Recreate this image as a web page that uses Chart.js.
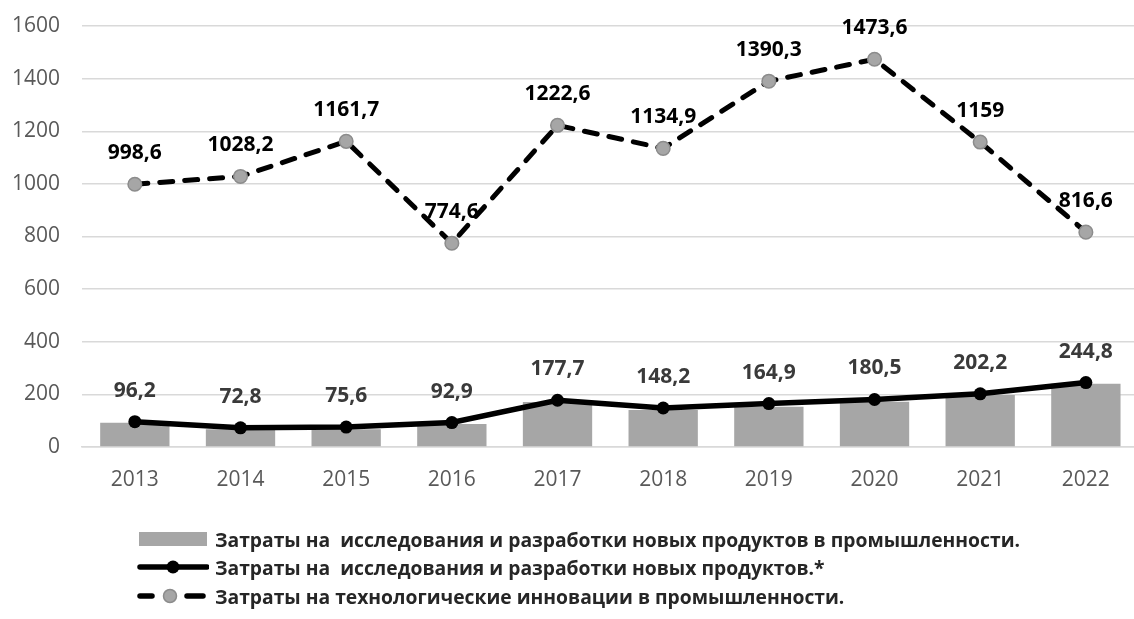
<!DOCTYPE html>
<html>
<head>
<meta charset="utf-8">
<script src="https://cdn.jsdelivr.net/npm/chart.js@4"></script>
<style>
  html, body { margin: 0; padding: 0; background: #fff; overflow: hidden; }
  #wrap { position: relative; width: 1134px; height: 619px; overflow: hidden; }
  #c { position: absolute; left: 0; top: 0; }
  #legend { position: absolute; left: 137px; top: 0; font-family: "Open Sans", sans-serif; font-weight: 700; font-size: 19.3px; color: #262626; }
  .row { position: absolute; left: 0; height: 28px; display: flex; align-items: center; white-space: pre; }
  .row svg { display: block; margin-right: 6px; }
</style>
</head>
<body>
<div id="wrap">
  <canvas id="c" width="1147" height="619"></canvas>
  <div id="legend"></div>
</div>
<script>
const categories = ['2013', '2014', '2015', '2016', '2017', '2018', '2019', '2020', '2021', '2022'];
const industryRnD = [92, 67, 67, 87, 171, 141, 153, 172, 198, 240];
const totalRnD = [96.2, 72.8, 75.6, 92.9, 177.7, 148.2, 164.9, 180.5, 202.2, 244.8];
const techInnovation = [998.6, 1028.2, 1161.7, 774.6, 1222.6, 1134.9, 1390.3, 1473.6, 1159, 816.6];
const yTickValues = [0, 200, 400, 600, 800, 1000, 1200, 1400, 1600];
const seriesNames = [
  'Затраты на  исследования и разработки новых продуктов в промышленности.',
  'Затраты на  исследования и разработки новых продуктов.*',
  'Затраты на технологические инновации в промышленности.'
];

const fmt = v => String(v).replace('.', ',');

const labelPlugin = {
  id: 'valueLabels',
  afterDatasetsDraw(chart) {
    const ctx = chart.ctx;
    chart.data.datasets.forEach((ds, i) => {
      if (!ds.showValues) return;
      const meta = chart.getDatasetMeta(i);
      ctx.save();
      ctx.font = '700 21px "Open Sans", sans-serif';
      ctx.fillStyle = ds.valueColor;
      ctx.textAlign = 'center';
      ctx.textBaseline = 'middle';
      meta.data.forEach((pt, j) => {
        ctx.fillText(fmt(ds.data[j]), pt.x, pt.y - 31);
      });
      ctx.restore();
    });
  }
};

new Chart(document.getElementById('c'), {
  data: {
    labels: categories,
    datasets: [
      {
        type: 'line',
        label: seriesNames[2],
        data: techInnovation,
        borderColor: '#000',
        borderWidth: 5,
        borderDash: [13, 12],
        borderCapStyle: 'round',
        pointRadius: 6.8,
        pointBackgroundColor: '#a6a6a6',
        pointBorderColor: '#8c8c8c',
        pointBorderWidth: 1.5,
        tension: 0,
        order: 1,
        showValues: true,
        valueColor: '#000'
      },
      {
        type: 'line',
        label: seriesNames[1],
        data: totalRnD,
        borderColor: '#000',
        borderWidth: 5.5,
        pointRadius: 6.5,
        pointBackgroundColor: '#000',
        pointBorderColor: '#000',
        pointBorderWidth: 0,
        tension: 0,
        order: 2,
        showValues: true,
        valueColor: '#3a3a3a'
      },
      {
        type: 'bar',
        label: seriesNames[0],
        data: industryRnD,
        backgroundColor: '#a6a6a6',
        borderWidth: 0,
        barPercentage: 0.656,
        categoryPercentage: 1,
        order: 3
      }
    ]
  },
  options: {
    responsive: false,
    animation: false,
    devicePixelRatio: 1,
    layout: { padding: { top: 26, right: 0, bottom: 122, left: 0 } },
    plugins: { legend: { display: false }, tooltip: { enabled: false } },
    scales: {
      x: {
        grid: { display: false, drawTicks: false },
        border: { display: true, color: '#d9d9d9', width: 1.5 },
        ticks: { color: '#595959', font: { family: '"Open Sans", sans-serif', size: 21 }, padding: 20 },
        afterFit(s) { s.height = 50; s.paddingLeft = 0; s.paddingRight = 0; }
      },
      y: {
        min: 0, max: 1600,
        afterBuildTicks(s) { s.ticks = yTickValues.map(v => ({ value: v })); },
        grid: { color: '#d9d9d9', lineWidth: 1.5, drawTicks: false },
        border: { display: false },
        ticks: {
          color: '#595959', font: { family: '"Open Sans", sans-serif', size: 21 }, padding: 22,
          callback: v => String(v)
        },
        afterFit(s) { s.width = 82; s.paddingTop = 0; s.paddingBottom = 0; }
      }
    }
  },
  plugins: [labelPlugin]
});

// HTML legend
const legend = document.getElementById('legend');
const symbols = [
  '<svg width="72" height="16"><rect x="2" y="1" width="68" height="14" fill="#a6a6a6"/></svg>',
  '<svg width="72" height="16"><line x1="3" y1="8" x2="70" y2="8" stroke="#000" stroke-width="5.5" stroke-linecap="round"/><circle cx="36" cy="8" r="6.5" fill="#000"/></svg>',
  '<svg width="72" height="16"><line x1="3" y1="8" x2="15" y2="8" stroke="#000" stroke-width="5.5" stroke-linecap="round"/><line x1="50" y1="8" x2="66" y2="8" stroke="#000" stroke-width="5.5" stroke-linecap="round"/><circle cx="33" cy="8" r="6.5" fill="#a6a6a6" stroke="#8c8c8c" stroke-width="1.5"/></svg>'
];
const centers = [539, 567, 596];
seriesNames.forEach((name, i) => {
  const row = document.createElement('div');
  row.className = 'row';
  row.style.top = (centers[i] - 14) + 'px';
  row.innerHTML = symbols[i];
  const span = document.createElement('span');
  span.textContent = name;
  row.appendChild(span);
  legend.appendChild(row);
});
</script>
</body>
</html>
